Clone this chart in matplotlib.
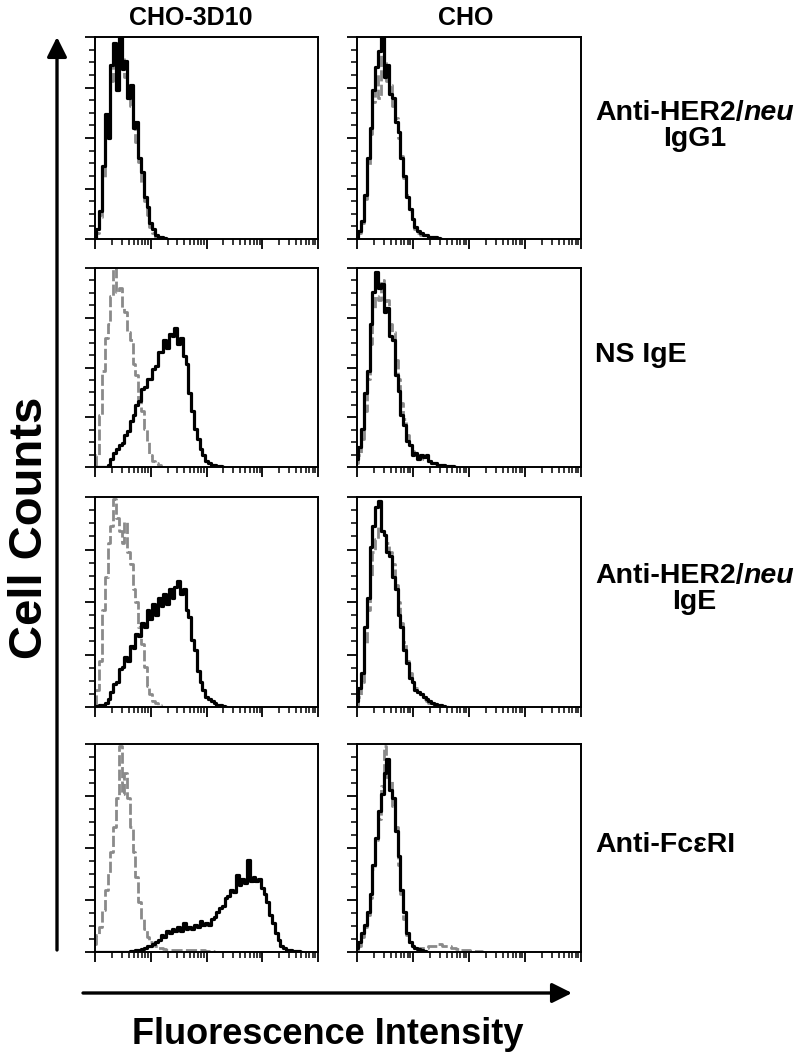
import numpy as np
import matplotlib
matplotlib.use("Agg")
import matplotlib.pyplot as plt
from matplotlib.ticker import LogLocator, MultipleLocator, NullFormatter

plt.rcParams['font.family'] = ['Liberation Sans', 'DejaVu Sans']

W, H = 796, 1058
STEP = 0.05  # bin width in decades

# counts (% of panel height), one value per 0.05 decade starting at 10^0
# row 1: Anti-HER2/neu IgG1
r1_3d10_ctrl = [0, 3, 11, 30, 52, 62, 78, 92, 86, 96, 90, 80, 74, 66, 58, 48, 38, 27, 19, 12, 6, 3, 1, 0.5, 0]
r1_3d10_stain = [0, 5, 14, 36, 62, 50, 86, 97, 74, 100, 84, 88, 70, 76, 55, 58, 40, 33, 21, 16, 8, 5, 2, 1, 1, 0.5, 0]
r1_cho_ctrl = [0.5, 3, 8, 20, 36, 52, 68, 82, 70, 96, 88, 78, 76, 66, 60, 50, 41, 30, 22, 14, 9, 5, 3, 2, 2, 1, 1, 0.5, 0]
r1_cho_stain = [1, 4, 9, 22, 40, 55, 74, 85, 93, 100, 80, 86, 72, 70, 58, 53, 40, 31, 21, 15, 10, 6, 4, 3, 2, 2, 1, 1, 1, 0.5, 0]

# row 2: NS IgE
r2_3d10_ctrl = [1, 6, 26, 48, 65, 72, 86, 100, 88, 90, 80, 78, 68, 64, 52, 46, 34, 28, 19, 13, 6, 3, 2, 1, 0]
r2_3d10_stain = [0, 0, 0, 0, 0, 1, 4, 7, 9, 11, 12, 16, 18, 23, 26, 31, 33, 39, 40, 44, 44, 49, 51, 58, 58,
                 64, 60, 67, 66, 70, 62, 65, 56, 52, 37, 28, 19, 14, 9, 6, 3, 2, 1, 1, 0.5, 0.5, 0]
r2_cho_ctrl = [2, 6, 14, 28, 44, 62, 80, 86, 84, 94, 82, 84, 72, 68, 54, 44, 32, 24, 16, 11, 8, 6, 5, 5, 4, 4, 3, 2, 1, 1, 1, 0.5, 0]
r2_cho_stain = [4, 10, 19, 37, 48, 72, 88, 98, 90, 92, 78, 80, 66, 64, 46, 38, 26, 21, 13, 11, 6, 7, 4, 6, 5, 6, 3, 2, 2, 1, 1, 1, 0.5, 0.5, 0.5, 0]

# row 3: Anti-HER2/neu IgE
r3_3d10_ctrl = [1, 8, 22, 46, 62, 78, 86, 99, 90, 84, 78, 88, 74, 68, 56, 50, 38, 30, 19, 10, 6, 3, 2, 1, 0]
r3_3d10_stain = [0, 0.5, 1, 1, 2, 4, 7, 11, 12, 18, 19, 24, 22, 29, 28, 35, 34, 40, 38, 46, 42, 49, 44, 52, 48,
                 54, 49, 56, 52, 57, 60, 54, 56, 46, 43, 32, 27, 17, 12, 8, 5, 4, 3, 2, 1, 1, 0.5, 0]
r3_cho_ctrl = [1, 5, 12, 30, 46, 62, 74, 80, 86, 84, 82, 78, 74, 68, 58, 50, 40, 31, 22, 16, 12, 9, 7, 6, 4, 3, 2, 1, 1, 0.5, 0]
r3_cho_stain = [3, 9, 16, 38, 52, 76, 86, 95, 98, 84, 82, 74, 72, 62, 56, 44, 38, 27, 21, 14, 12, 8, 7, 6, 5, 4, 3, 2, 1.5, 1, 1, 0.5, 0]

# row 4: Anti-FceRI
r4_3d10_ctrl = [4, 8, 12, 20, 30, 38, 48, 60, 74, 99, 76, 86, 74, 60, 48, 36, 24, 16, 11, 7, 5, 4, 3, 2, 2, 1.5,
                1, 1, 1, 1, 1, 1, 1, 1, 1, 1, 1, 1, 1, 1, 0.5, 0.5, 0.5, 0]
r4_3d10_stain = [0, 0, 0, 0, 0, 0, 0, 0, 0, 0, 0, 0, 0, 0.5, 0.5, 1, 1, 1.5, 2, 3, 3, 4, 5, 6, 8, 7, 10, 9, 11,
                 10, 12, 10, 14, 11, 12, 11, 13, 12, 15, 13, 14, 13, 16, 17, 19, 21, 22, 26, 27, 30, 29, 37, 32,
                 35, 33, 44, 34, 36, 34, 35, 31, 28, 24, 18, 14, 9, 6, 3, 2, 1, 1, 0.5, 0.5, 0.5, 0]
r4_cho_ctrl = [1, 3, 7, 12, 18, 26, 40, 54, 64, 80, 99, 84, 82, 70, 60, 42, 28, 16, 8, 5, 3, 2, 2, 2, 2, 2, 3, 3,
               3, 4, 4, 3, 3, 3, 2, 2, 1.5, 1, 1, 1, 1, 0.5, 0.5, 0.5, 0.5, 0]
r4_cho_stain = [2, 5, 9, 13, 19, 28, 42, 55, 68, 76, 86, 93, 78, 74, 58, 46, 30, 19, 9, 5, 3, 2, 1.5, 1, 0.5, 0]

panels = [
    [(r1_3d10_ctrl, r1_3d10_stain), (r1_cho_ctrl, r1_cho_stain)],
    [(r2_3d10_ctrl, r2_3d10_stain), (r2_cho_ctrl, r2_cho_stain)],
    [(r3_3d10_ctrl, r3_3d10_stain), (r3_cho_ctrl, r3_cho_stain)],
    [(r4_3d10_ctrl, r4_3d10_stain), (r4_cho_ctrl, r4_cho_stain)],
]
col_titles = ["CHO-3D10", "CHO"]
row_labels = [("Anti-HER2/", "neu", "IgG1"), ("NS IgE", "", ""), ("Anti-HER2/", "neu", "IgE"), ("Anti-Fc\u03b5RI", "", "")]

# panel boxes in pixels: (left, right) per column, (top, bottom) per row
col_px = [(95, 318), (357, 581)]
row_px = [(37, 239), (268, 467), (497, 707), (744, 952)]

fig = plt.figure(figsize=(W / 100, H / 100), dpi=100)


def decades(vals):
    return 10 ** (np.arange(len(vals)) * STEP)


for r, row in enumerate(panels):
    for c, (ctrl, stain) in enumerate(row):
        x0, x1 = col_px[c]
        t0, b0 = row_px[r]
        ax = fig.add_axes([x0 / W, 1 - b0 / H, (x1 - x0) / W, (b0 - t0) / H])
        ax.step(decades(ctrl), ctrl, where='mid', color='#8a8a8a', lw=2.0, ls=(0, (4, 1.2)))
        ax.step(decades(stain), stain, where='mid', color='black', lw=2.3)
        ax.set_xscale('log')
        ax.set_xlim(1, 1e4)
        ax.set_ylim(0, 100)
        ax.xaxis.set_major_locator(LogLocator(base=10))
        ax.xaxis.set_minor_locator(LogLocator(base=10, subs=np.arange(2, 10)))
        ax.xaxis.set_major_formatter(NullFormatter())
        ax.xaxis.set_minor_formatter(NullFormatter())
        ax.yaxis.set_major_locator(MultipleLocator(25))
        ax.yaxis.set_minor_locator(MultipleLocator(6.25))
        ax.yaxis.set_major_formatter(NullFormatter())
        ax.tick_params(which='major', direction='out', length=7, width=1.3)
        ax.tick_params(which='minor', direction='out', length=4, width=1.1)
        for s in ax.spines.values():
            s.set_linewidth(1.4)

# overlay for arrows and labels, pixel coordinates
ov = fig.add_axes([0, 0, 1, 1])
ov.set_xlim(0, W)
ov.set_ylim(H, 0)
ov.axis('off')

arrow = dict(arrowstyle='-|>,head_length=0.6,head_width=0.3', lw=2.4, color='black',
             mutation_scale=20, shrinkA=0, shrinkB=0)
ov.annotate('', xy=(57, 37), xytext=(57, 950), arrowprops=arrow)
ov.annotate('', xy=(572, 993), xytext=(83, 993), arrowprops=arrow)

ov.text(30, 528, "Cell Counts", rotation=90, ha='center', va='center', fontsize=34, fontweight='bold')
ov.text(328, 1035, "Fluorescence Intensity", ha='center', va='center', fontsize=26, fontweight='bold')

ov.text(191, 25, col_titles[0], ha='center', va='baseline', fontsize=18, fontweight='bold')
ov.text(466, 25, col_titles[1], ha='center', va='baseline', fontsize=18, fontweight='bold')

label_base = [(120, 146), (362, None), (583, 609), (852, None)]
fig.canvas.draw()
renderer = fig.canvas.get_renderer()
lx = 595
for (main, ital, second), (y1, y2) in zip(row_labels, label_base):
    t1 = ov.text(lx, y1, main, ha='left', va='baseline', fontsize=20.5, fontweight='bold')
    w1 = t1.get_window_extent(renderer).width
    w2 = 0
    if ital:
        ov.text(lx + w1, y1, ital, ha='left', va='baseline', fontsize=20.5, fontweight='bold', style='italic')
        t2 = ov.texts[-1]
        w2 = t2.get_window_extent(renderer).width
    if second:
        ov.text(lx + (w1 + w2) / 2, y2, second, ha='center', va='baseline', fontsize=20.5, fontweight='bold')

fig.savefig("out.png", dpi=100)
